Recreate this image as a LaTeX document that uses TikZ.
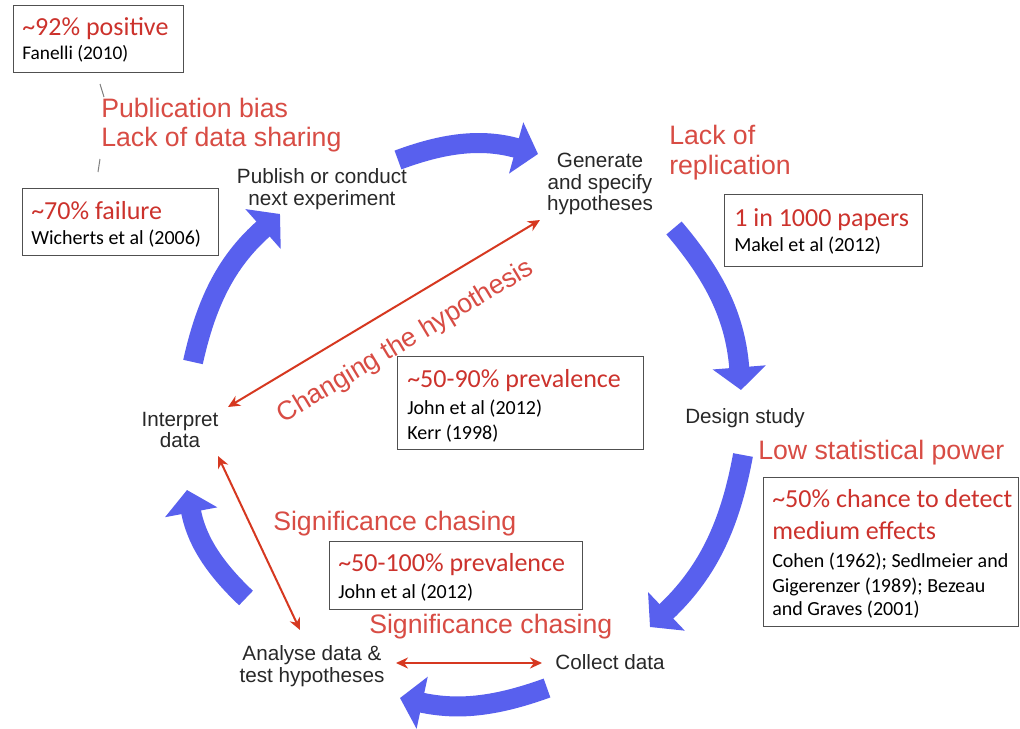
\documentclass[tikz,border=0pt]{standalone}
\usepackage{fontspec}
\setmainfont{Liberation Sans}
\newfontfamily\carl{Carlito}
\usetikzlibrary{arrows.meta}
\definecolor{cycleblue}{RGB}{88,96,238}
\definecolor{labred}{RGB}{216,76,68}
\definecolor{boxred}{RGB}{204,50,44}
\definecolor{arrred}{RGB}{214,56,32}
\definecolor{nodetext}{RGB}{40,40,40}
\definecolor{boxline}{RGB}{80,80,80}
\begin{document}
\begin{tikzpicture}[x=0.75pt,y=0.75pt,
  cyc/.style={draw=cycleblue, line width=15pt, -{Triangle[length=17pt,width=39pt]}},
  redarr/.style={draw=arrred, line width=1.5pt, {Stealth[length=9pt,width=8.25pt]}-{Stealth[length=9pt,width=8.25pt]}},
  tick/.style={draw=gray, line width=0.75pt},
  box/.style={draw=boxline, line width=0.9pt, anchor=north west, inner sep=0pt},
  boxhead/.style={anchor=base west, inner sep=0pt, text=boxred, font=\carl\fontsize{19.5}{24}\selectfont},
  boxref/.style={anchor=base west, inner sep=0pt, text=black, font=\carl\fontsize{15}{18}\selectfont},
  lab/.style={anchor=base west, inner sep=0pt, text=labred, font=\fontsize{20}{24}\selectfont},
  stage/.style={align=center, inner sep=0pt, text=nodetext, font=\fontsize{15.5}{16}\selectfont}
]
\fill[white] (0,0) rectangle (1020,-728);
\useasboundingbox (0,0) rectangle (1020,-728);

% ---- cycle stages
\node[stage] (publish) at (322,-189) {Publish or conduct\\next experiment};
\node[stage] (gen) at (600,-184) {Generate\\and specify\\hypotheses};
\node[stage] (design) at (745,-418) {Design study};
\node[stage] (collect) at (610,-662) {Collect data};
\node[stage] (analyse) at (312,-666) {Analyse data \&\\test hypotheses};
\node[stage] (interp) at (180,-430) {Interpret\\data};

% ---- blue cycle arrows
\coordinate (a1s) at (398,-160); \coordinate (a1e) at (538,-154);
\coordinate (a2s) at (674,-228); \coordinate (a2e) at (741,-390);
\coordinate (a3s) at (743,-455); \coordinate (a3e) at (650,-627);
\coordinate (a4s) at (547,-688); \coordinate (a4e) at (400,-698);
\coordinate (a5s) at (246,-598); \coordinate (a5e) at (187,-490);
\coordinate (a6s) at (193,-362); \coordinate (a6e) at (280,-214);
\draw[cyc] (a1s) to[bend left=18] (a1e);
\draw[cyc] (a2s) to[bend left=18] (a2e);
\draw[cyc] (a3s) to[bend left=18] (a3e);
\draw[cyc] (a4s) to[bend left=16] (a4e);
\draw[cyc] (a5s) to[bend left=18] (a5e);
\draw[cyc] (a6s) to[bend left=18] (a6e);

% ---- red double arrows
\coordinate (r1a) at (540,-220); \coordinate (r1b) at (228,-407);
\coordinate (r2a) at (218,-456); \coordinate (r2b) at (300,-630);
\coordinate (r3a) at (396,-663); \coordinate (r3b) at (542,-663);
\draw[redarr] (r1a) -- (r1b);
\draw[redarr] (r2a) -- (r2b);
\draw[redarr] (r3a) -- (r3b);

% ---- red labels
\node[lab] (pubbias) at (101,-117) {Publication bias};
\node[lab] (lackdata) at (101,-146) {Lack of data sharing};
\node[lab] (lackof) at (669,-144) {Lack of};
\node[lab] (replic) at (669,-174) {replication};
\node[lab] (lowpow) at (758,-459) {Low statistical power};
\node[lab] (sigmid) at (273,-530) {Significance chasing};
\node[lab] (sigbot) at (369,-633) {Significance chasing};
\node[text=labred, font=\fontsize{20}{24}\selectfont, rotate=31, inner sep=0pt] (changing) at (406,-342) {Changing the hypothesis};

% ---- boxes
\node[box, minimum width=127.5pt, minimum height=50.25pt] (box1) at (13,-5) {};
\node[boxhead] (box1a) at (22,-35) {\textasciitilde92\% positive};
\node[boxref, font=\carl\fontsize{14.5}{18}\selectfont] (box1b) at (22,-59) {Fanelli (2010)};

\node[box, minimum width=147pt, minimum height=50.25pt] (box2) at (22,-188) {};
\node[boxhead] (box2a) at (31,-219) {\textasciitilde70\% failure};
\node[boxref] (box2b) at (31,-244) {Wicherts et al (2006)};

\node[box, minimum width=148.5pt, minimum height=54pt] (box3) at (724,-194) {};
\node[boxhead] (box3a) at (734,-226) {1 in 1000 papers};
\node[boxref] (box3b) at (734,-251) {Makel et al (2012)};

\node[box, minimum width=184.5pt, minimum height=69.75pt] (box4) at (397,-356) {};
\node[boxhead] (box4a) at (407,-387) {\textasciitilde50-90\% prevalence};
\node[boxref] (box4b) at (407,-414) {John et al (2012)};
\node[boxref] (box4c) at (407,-439) {Kerr (1998)};

\node[box, minimum width=191.25pt, minimum height=111.75pt] (box5) at (763,-477) {};
\node[boxhead] (box5a) at (772,-507) {\textasciitilde50\% chance to detect};
\node[boxhead] (box5b) at (772,-539) {medium effects};
\node[boxref] (box5c) at (772,-567) {Cohen (1962); Sedlmeier and};
\node[boxref] (box5d) at (772,-592) {Gigerenzer (1989); Bezeau};
\node[boxref] (box5e) at (772,-615) {and Graves (2001)};

\node[box, minimum width=189.75pt, minimum height=51pt] (box6) at (329,-541) {};
\node[boxhead] (box6a) at (338,-571) {\textasciitilde50-100\% prevalence};
\node[boxref] (box6b) at (338,-598) {John et al (2012)};

% ---- ticks linking boxes to the publication bias label
\coordinate (t1a) at (100,-84); \coordinate (t1b) at (104,-97);
\coordinate (t2a) at (100,-159); \coordinate (t2b) at (98,-172);
\draw[tick] (t1a) -- (t1b);
\draw[tick] (t2a) -- (t2b);
\end{tikzpicture}
\end{document}
